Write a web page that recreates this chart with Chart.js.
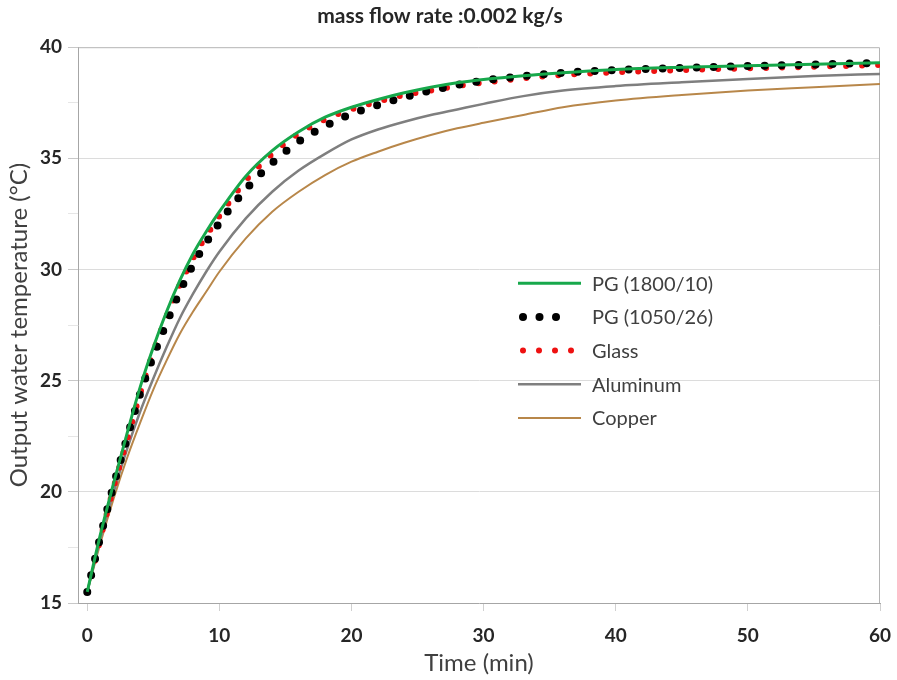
<!DOCTYPE html>
<html>
<head>
<meta charset="utf-8">
<script src="https://cdn.jsdelivr.net/npm/chart.js@4.4.0/dist/chart.umd.min.js"></script>
<style>
  html, body { margin: 0; padding: 0; background: #ffffff; }
  #wrap { width: 897px; height: 680px; }
</style>
</head>
<body>
<div id="wrap"><canvas id="c" width="897" height="680"></canvas></div>
<script>
// Outlet water temperature (°C) against time (min) for each absorber material
const timeMin   = [0, 1, 2, 3, 4, 5, 6, 7, 8, 9, 10, 12, 14, 16, 18, 20, 22, 24, 26, 28, 30, 33, 36, 40, 45, 50, 55, 60];
const pg1800_10 = [15.5, 18.1, 20.4, 22.6, 24.7, 26.5, 28.1, 29.5, 30.7, 31.7, 32.6, 34.2, 35.35, 36.2, 36.85, 37.3, 37.65, 37.95, 38.2, 38.4, 38.55, 38.72, 38.85, 39.0, 39.1, 39.17, 39.23, 39.3];
const pg1050_26 = [15.5, 18.0, 20.3, 22.4, 24.4, 26.1, 27.6, 29.0, 30.2, 31.2, 32.1, 33.6, 34.8, 35.75, 36.45, 37.0, 37.4, 37.75, 38.05, 38.3, 38.5, 38.7, 38.85, 38.97, 39.07, 39.15, 39.22, 39.3];
const glass     = [15.5, 17.9, 20.2, 22.3, 24.4, 26.3, 27.9, 29.3, 30.5, 31.5, 32.4, 34.0, 35.2, 36.1, 36.75, 37.2, 37.55, 37.85, 38.05, 38.25, 38.4, 38.6, 38.75, 38.87, 38.97, 39.05, 39.12, 39.2];
const aluminum  = [15.5, 17.9, 20.0, 21.9, 23.6, 25.1, 26.5, 27.8, 28.9, 29.9, 30.8, 32.3, 33.5, 34.45, 35.2, 35.85, 36.3, 36.65, 36.95, 37.2, 37.45, 37.8, 38.05, 38.25, 38.42, 38.57, 38.7, 38.8];
const copper    = [15.5, 17.7, 19.7, 21.5, 23.1, 24.6, 25.9, 27.1, 28.1, 29.0, 29.9, 31.4, 32.6, 33.5, 34.25, 34.85, 35.3, 35.7, 36.05, 36.35, 36.6, 36.95, 37.3, 37.6, 37.85, 38.05, 38.2, 38.35];

const seriesNames = ['PG (1800/10)', 'PG (1050/26)', 'Glass', 'Aluminum', 'Copper'];
const xTicks = [0, 10, 20, 30, 40, 50, 60];
const yTicks = [15, 20, 25, 30, 35, 40];

const FONT = "Lato, 'Open Sans', 'Liberation Sans', sans-serif";
const pts = arr => arr.map((v, i) => ({ x: timeMin[i], y: v }));

// Legend drawn inside the plot area, using each dataset's own stroke style
const insideLegend = {
  id: 'insideLegend',
  afterDraw(chart) {
    const { ctx, chartArea: a } = chart;
    const x0 = a.left + 440, y0 = a.top + 236, gap = 33.7;
    chart.data.datasets.forEach((ds, i) => {
      const y = y0 + i * gap;
      ctx.save();
      if (ds.legendDots) {
        ctx.fillStyle = ds.borderColor;
        for (let k = 0; k < ds.legendDots; k++) {
          ctx.beginPath();
          ctx.arc(x0 + 5 + k * ds.legendStep, y, ds.borderWidth / 2, 0, Math.PI * 2);
          ctx.fill();
        }
      } else {
        ctx.strokeStyle = ds.borderColor;
        ctx.lineWidth = ds.borderWidth;
        ctx.beginPath();
        ctx.moveTo(x0, y);
        ctx.lineTo(x0 + 63, y);
        ctx.stroke();
      }
      ctx.fillStyle = '#404040';
      ctx.font = '20px ' + FONT;
      ctx.textBaseline = 'middle';
      ctx.textAlign = 'left';
      ctx.fillText(ds.label, x0 + 74, y + 1);
      ctx.restore();
    });
  }
};

// Frame round the plot area (top and right edges)
const plotFrame = {
  id: 'plotFrame',
  beforeDatasetsDraw(chart) {
    const { ctx, chartArea: a } = chart;
    ctx.save();
    ctx.strokeStyle = '#b4b4b4';
    ctx.lineWidth = 1;
    ctx.beginPath();
    ctx.moveTo(a.left, a.top + 0.5);
    ctx.lineTo(a.right - 0.5, a.top + 0.5);
    ctx.lineTo(a.right - 0.5, a.bottom);
    ctx.stroke();
    ctx.restore();
  }
};

new Chart(document.getElementById('c'), {
  type: 'line',
  data: {
    datasets: [
      { label: seriesNames[0], data: pts(pg1800_10), borderColor: '#17a84b', borderWidth: 3 },
      { label: seriesNames[1], data: pts(pg1050_26), borderColor: '#000000', borderWidth: 8,
        borderDash: [0, 17], borderCapStyle: 'round', legendDots: 3, legendStep: 16.5 },
      { label: seriesNames[2], data: pts(glass), borderColor: '#ee1111', borderWidth: 6,
        borderDash: [0, 16], borderCapStyle: 'round', legendDots: 4, legendStep: 16 },
      { label: seriesNames[3], data: pts(aluminum), borderColor: '#7f7f7f', borderWidth: 2.5 },
      { label: seriesNames[4], data: pts(copper), borderColor: '#b8874a', borderWidth: 2 }
    ]
  },
  options: {
    responsive: false,
    animation: false,
    cubicInterpolationMode: 'monotone',
    elements: { point: { radius: 0 } },
    layout: { padding: { left: 0, right: 17, top: 0, bottom: 0 } },
    plugins: {
      legend: { display: false },
      tooltip: { enabled: false },
      title: {
        display: true,
        text: 'mass flow rate :0.002 kg/s',
        color: '#262626',
        font: { family: FONT, size: 21, weight: 'bold' },
        padding: { top: 4, bottom: 18 }
      }
    },
    scales: {
      x: {
        type: 'linear',
        min: -0.7,
        max: 60,
        afterBuildTicks: s => { s.ticks = xTicks.map(v => ({ value: v })); },
        afterFit: s => { s.height = 77; s.paddingLeft = 0; s.paddingRight = 0; },
        grid: { drawOnChartArea: false, drawTicks: true, tickLength: 8, tickColor: '#d0d0d0' },
        border: { color: '#a6a6a6', width: 1 },
        ticks: { color: '#262626', padding: 13, font: { family: FONT, size: 19, weight: 'bold' } },
        title: {
          display: true, text: 'Time (min)', color: '#404040',
          font: { family: FONT, size: 24 }, padding: { top: 0, bottom: 2 }
        }
      },
      y: {
        min: 15,
        max: 40,
        afterBuildTicks: s => {
          const t = [];
          for (let v = 15; v <= 40; v += 2.5) t.push({ value: v });
          s.ticks = t;
        },
        afterFit: s => { s.width = 78; },
        grid: {
          color: c => (c.tick && yTicks.includes(c.tick.value) && c.tick.value !== 15 && c.tick.value !== 40) ? '#dcdcdc' : 'rgba(0,0,0,0)',
          tickColor: c => (c.tick && yTicks.includes(c.tick.value)) ? '#c8c8c8' : '#e6e6e6',
          tickLength: 10
        },
        border: { color: '#a6a6a6', width: 1 },
        ticks: {
          color: '#262626', padding: 6,
          font: { family: FONT, size: 19, weight: 'bold' },
          callback: v => (yTicks.includes(v) ? String(v) : '')
        },
        title: {
          display: true, text: 'Output water temperature (°C)', color: '#404040',
          font: { family: FONT, size: 24 }, padding: { top: 5, bottom: 0 }
        }
      }
    }
  },
  plugins: [plotFrame, insideLegend]
});
</script>
</body>
</html>
